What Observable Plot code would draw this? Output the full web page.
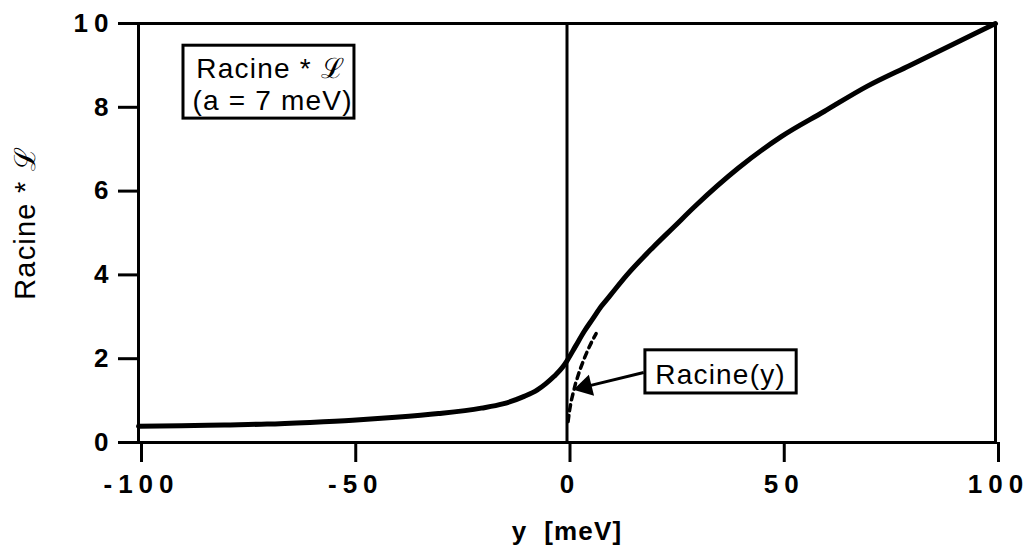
<!DOCTYPE html>
<html>
<head>
<meta charset="utf-8">
<script src="https://cdn.jsdelivr.net/npm/d3@7"></script>
<script src="https://cdn.jsdelivr.net/npm/@observablehq/plot@0.6"></script>
<style>
  html, body { margin: 0; padding: 0; background: #fff; }
  g[aria-label="x-axis tick label"] text,
  g[aria-label="y-axis tick label"] text { letter-spacing: 6px; }
</style>
</head>
<body>
<div id="chart"></div>
<script>
// Solid curve: Racine * L (a = 7 meV)
const convX = [-100, -90, -80, -70, -60, -50, -40, -30, -20, -15, -10, -7, -5, -3, -1, 0, 2, 4, 6, 8, 10, 14, 20, 25, 30, 40, 50, 60, 70, 80, 90, 100];
const convY = [0.39, 0.40, 0.42, 0.44, 0.48, 0.53, 0.60, 0.69, 0.82, 0.92, 1.10, 1.25, 1.40, 1.58, 1.80, 1.95, 2.30, 2.65, 2.95, 3.25, 3.50, 4.00, 4.65, 5.15, 5.65, 6.55, 7.30, 7.90, 8.50, 9.00, 9.50, 10.0];
// Dashed curve: Racine(y)
const rootX = [0.25, 0.6, 1, 2, 3, 4, 5, 6, 6.8];
const rootY = [0.5, 0.77, 1.0, 1.41, 1.73, 2.0, 2.24, 2.45, 2.6];
// Axis ticks
const xTicks = [-100, -50, 0, 50, 100];
const yTicks = [0, 2, 4, 6, 8, 10];

const conv = convX.map((x, i) => ({x, y: convY[i]}));
const root = rootX.map((x, i) => ({x, y: rootY[i]}));

const ann = {
  legend1: {x: -86.5, y: 8.91, text: "Racine * \u2112"},
  legend2: {x: -87.4, y: 8.16, text: "(a = 7 meV)"},
  legendBox: {x1: -89.5, x2: -49.6, y1: 7.73, y2: 9.47},
  rootLabel: {x: 20.6, y: 1.62, text: "Racine(y)"},
  rootBox: {x1: 18.3, x2: 53.6, y1: 1.17, y2: 2.2},
  arrow: {x1: 17.9, y1: 1.67, x2: 4.6, y2: 1.34},
  head: {x: 4.3, y: 1.33}
};

const font = "'Liberation Sans', Arial, Helvetica, sans-serif";
const fmt = d => String(d).replace("\u2212", "-");

const chart = Plot.plot({
  width: 1028,
  height: 545,
  marginLeft: 138,
  marginRight: 33,
  marginTop: 23,
  marginBottom: 103,
  style: {fontFamily: font, fontSize: "26px", fontWeight: "bold", color: "#000", background: "#fff"},
  x: {domain: [-100, 100]},
  y: {domain: [0, 10]},
  marks: [
    Plot.axisX({ticks: xTicks, tickFormat: fmt, tickSize: 20, tickPadding: 12, stroke: "#000", strokeWidth: 3, label: null, dx: 3}),
    Plot.axisY({ticks: yTicks, tickFormat: fmt, tickSize: 20, tickPadding: 4, stroke: "#000", strokeWidth: 3, label: null}),
    Plot.ruleX([0], {y1: 0, y2: 10, stroke: "#000", strokeWidth: 3}),
    Plot.line(root, {x: "x", y: "y", stroke: "#000", strokeWidth: 3.5, strokeDasharray: "6,5"}),
    Plot.line(conv, {x: "x", y: "y", stroke: "#000", strokeWidth: 5, curve: "monotone-x"}),
    Plot.frame({stroke: "#000", strokeWidth: 3}),
    Plot.rect([ann.legendBox], {x1: "x1", x2: "x2", y1: "y1", y2: "y2", fill: "#fff", stroke: "#000", strokeWidth: 3}),
    Plot.text([ann.legend1, ann.legend2], {x: "x", y: "y", text: "text", textAnchor: "start", lineAnchor: "middle", fontSize: 28, fontWeight: "normal", fill: "#000"}),
    Plot.rect([ann.rootBox], {x1: "x1", x2: "x2", y1: "y1", y2: "y2", fill: "#fff", stroke: "#000", strokeWidth: 3}),
    Plot.text([ann.rootLabel], {x: "x", y: "y", text: "text", textAnchor: "start", lineAnchor: "middle", fontSize: 28, fontWeight: "normal", fill: "#000"}),
    Plot.link([ann.arrow], {x1: "x1", y1: "y1", x2: "x2", y2: "y2", stroke: "#000", strokeWidth: 3}),
    Plot.dot([ann.head], {x: "x", y: "y", symbol: "triangle", r: 8, rotate: 256, fill: "#000", stroke: "none"}),
    Plot.text(["y  [meV]"], {frameAnchor: "bottom", dy: 89, textAnchor: "middle", lineAnchor: "middle", fontSize: 26, fontWeight: "bold", fill: "#000"}),
    Plot.text(["Racine * \u2112"], {frameAnchor: "left", rotate: -90, dx: -113, dy: -10, textAnchor: "middle", lineAnchor: "middle", fontSize: 29, fontWeight: "normal", fill: "#000"})
  ]
});
chart.querySelectorAll('g[aria-label="text"] text').forEach(t => t.style.letterSpacing = "1.2px");
document.getElementById("chart").appendChild(chart);
</script>
</body>
</html>
